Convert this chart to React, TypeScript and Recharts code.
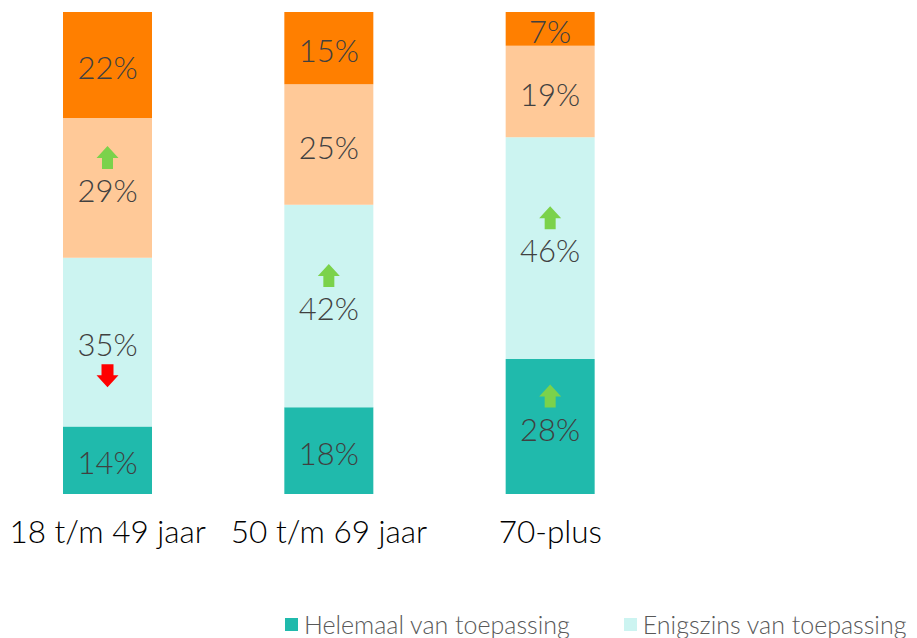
import React from 'react';
import { BarChart, Bar, XAxis, YAxis, Legend, LabelList } from 'recharts';

const categories = ['18 t/m 49 jaar', '50 t/m 69 jaar', '70-plus'];
const helemaal = [14, 18, 28];
const enigszins = [35, 42, 46];
const beetje = [29, 25, 19];
const niet = [22, 15, 7];
const helemaalArrows = ['', '', 'up'];
const enigszinsArrows = ['down', 'up', 'up'];
const beetjeArrows = ['up', '', ''];
const nietArrows = ['', '', ''];
const seriesNames = [
  'Helemaal van toepassing',
  'Enigszins van toepassing',
  'Een beetje van toepassing',
  'Niet van toepassing',
];
const colors = ['#20BAAC', '#CCF4F1', '#FFC998', '#FF7F00'];

const FONT = 'Lato, "Open Sans", sans-serif';

const data = categories.map((c, i) => ({
  name: c,
  helemaal: helemaal[i],
  enigszins: enigszins[i],
  beetje: beetje[i],
  niet: niet[i],
}));

const makeLabel = (arrows: string[]) => (props: any) => {
  const { x, y, width, height, value, index } = props;
  const cx = Number(x) + Number(width) / 2;
  const cy = Number(y) + Number(height) / 2 + 2;
  const dir = arrows[index];
  let arrow = null;
  if (dir === 'up') {
    const ay = cy - 33;
    arrow = (
      <path
        d={`M${cx - 11},${ay + 1} L${cx},${ay - 11} L${cx + 11},${ay + 1} L${cx + 5.5},${ay + 1} L${cx + 5.5},${ay + 12} L${cx - 5.5},${ay + 12} L${cx - 5.5},${ay + 1} Z`}
        fill="#7BD24B"
      />
    );
  } else if (dir === 'down') {
    const ay = cy + 32;
    arrow = (
      <path
        d={`M${cx - 11},${ay - 1} L${cx},${ay + 11} L${cx + 11},${ay - 1} L${cx + 6},${ay - 1} L${cx + 6},${ay - 12} L${cx - 6},${ay - 12} L${cx - 6},${ay - 1} Z`}
        fill="#FF0000"
      />
    );
  }
  return (
    <g>
      <text
        x={cx}
        y={cy}
        textAnchor="middle"
        dominantBaseline="central"
        fontSize={31}
        fontWeight={300}
        fontFamily={FONT}
        fill="#404040"
      >
        {value}%
      </text>
      {arrow}
    </g>
  );
};

const Tick = (props: any) => {
  const { x, y, payload } = props;
  return (
    <text x={x} y={y + 19} dy="0.71em" textAnchor="middle" fontSize={31.5} fontWeight={300} fontFamily={FONT} fill="#000">
      {payload.value}
    </text>
  );
};

const LegendContent = (props: any) => {
  const payload = (props.payload || [])
    .filter((p: any) => p.type !== 'none')
    .slice()
    .sort((a: any, b: any) => seriesNames.indexOf(a.value) - seriesNames.indexOf(b.value));
  return (
    <div style={{ display: 'flex', height: 30, fontFamily: FONT, fontWeight: 300, fontSize: 25, lineHeight: '28px', color: '#595959', whiteSpace: 'nowrap' }}>
      {payload.map((p: any, i: number) => (
        <div key={i} style={{ display: 'flex', alignItems: 'center', marginRight: i === 0 ? 54 : 0 }}>
          <span style={{ display: 'inline-block', width: 13, height: 13, background: p.color, marginRight: 6 }} />
          <span>{p.value}</span>
        </div>
      ))}
    </div>
  );
};

export default function App() {
  return (
    <div style={{ position: 'absolute', left: 0, top: 0, width: 917, height: 638, background: '#fff', overflow: 'hidden' }}>
      <BarChart
        width={917}
        height={638}
        data={data}
        margin={{ top: 12, right: 256, bottom: 30, left: -3 }}
        barSize={89}
      >
        <XAxis dataKey="name" tick={<Tick />} tickLine={false} axisLine={false} height={84} interval={0} />
        <YAxis hide domain={[0, 100]} />
        <Legend
          content={<LegendContent />}
          wrapperStyle={{ position: 'absolute', left: 285, top: 609, width: 630, height: 30 }}
        />
        <Bar dataKey="helemaal" name={seriesNames[0]} stackId="a" fill={colors[0]} isAnimationActive={false}>
          <LabelList dataKey="helemaal" content={makeLabel(helemaalArrows)} />
        </Bar>
        <Bar dataKey="enigszins" name={seriesNames[1]} stackId="a" fill={colors[1]} isAnimationActive={false}>
          <LabelList dataKey="enigszins" content={makeLabel(enigszinsArrows)} />
        </Bar>
        <Bar dataKey="beetje" name={seriesNames[2]} stackId="a" fill={colors[2]} legendType="none" isAnimationActive={false}>
          <LabelList dataKey="beetje" content={makeLabel(beetjeArrows)} />
        </Bar>
        <Bar dataKey="niet" name={seriesNames[3]} stackId="a" fill={colors[3]} legendType="none" isAnimationActive={false}>
          <LabelList dataKey="niet" content={makeLabel(nietArrows)} />
        </Bar>
      </BarChart>
    </div>
  );
}
